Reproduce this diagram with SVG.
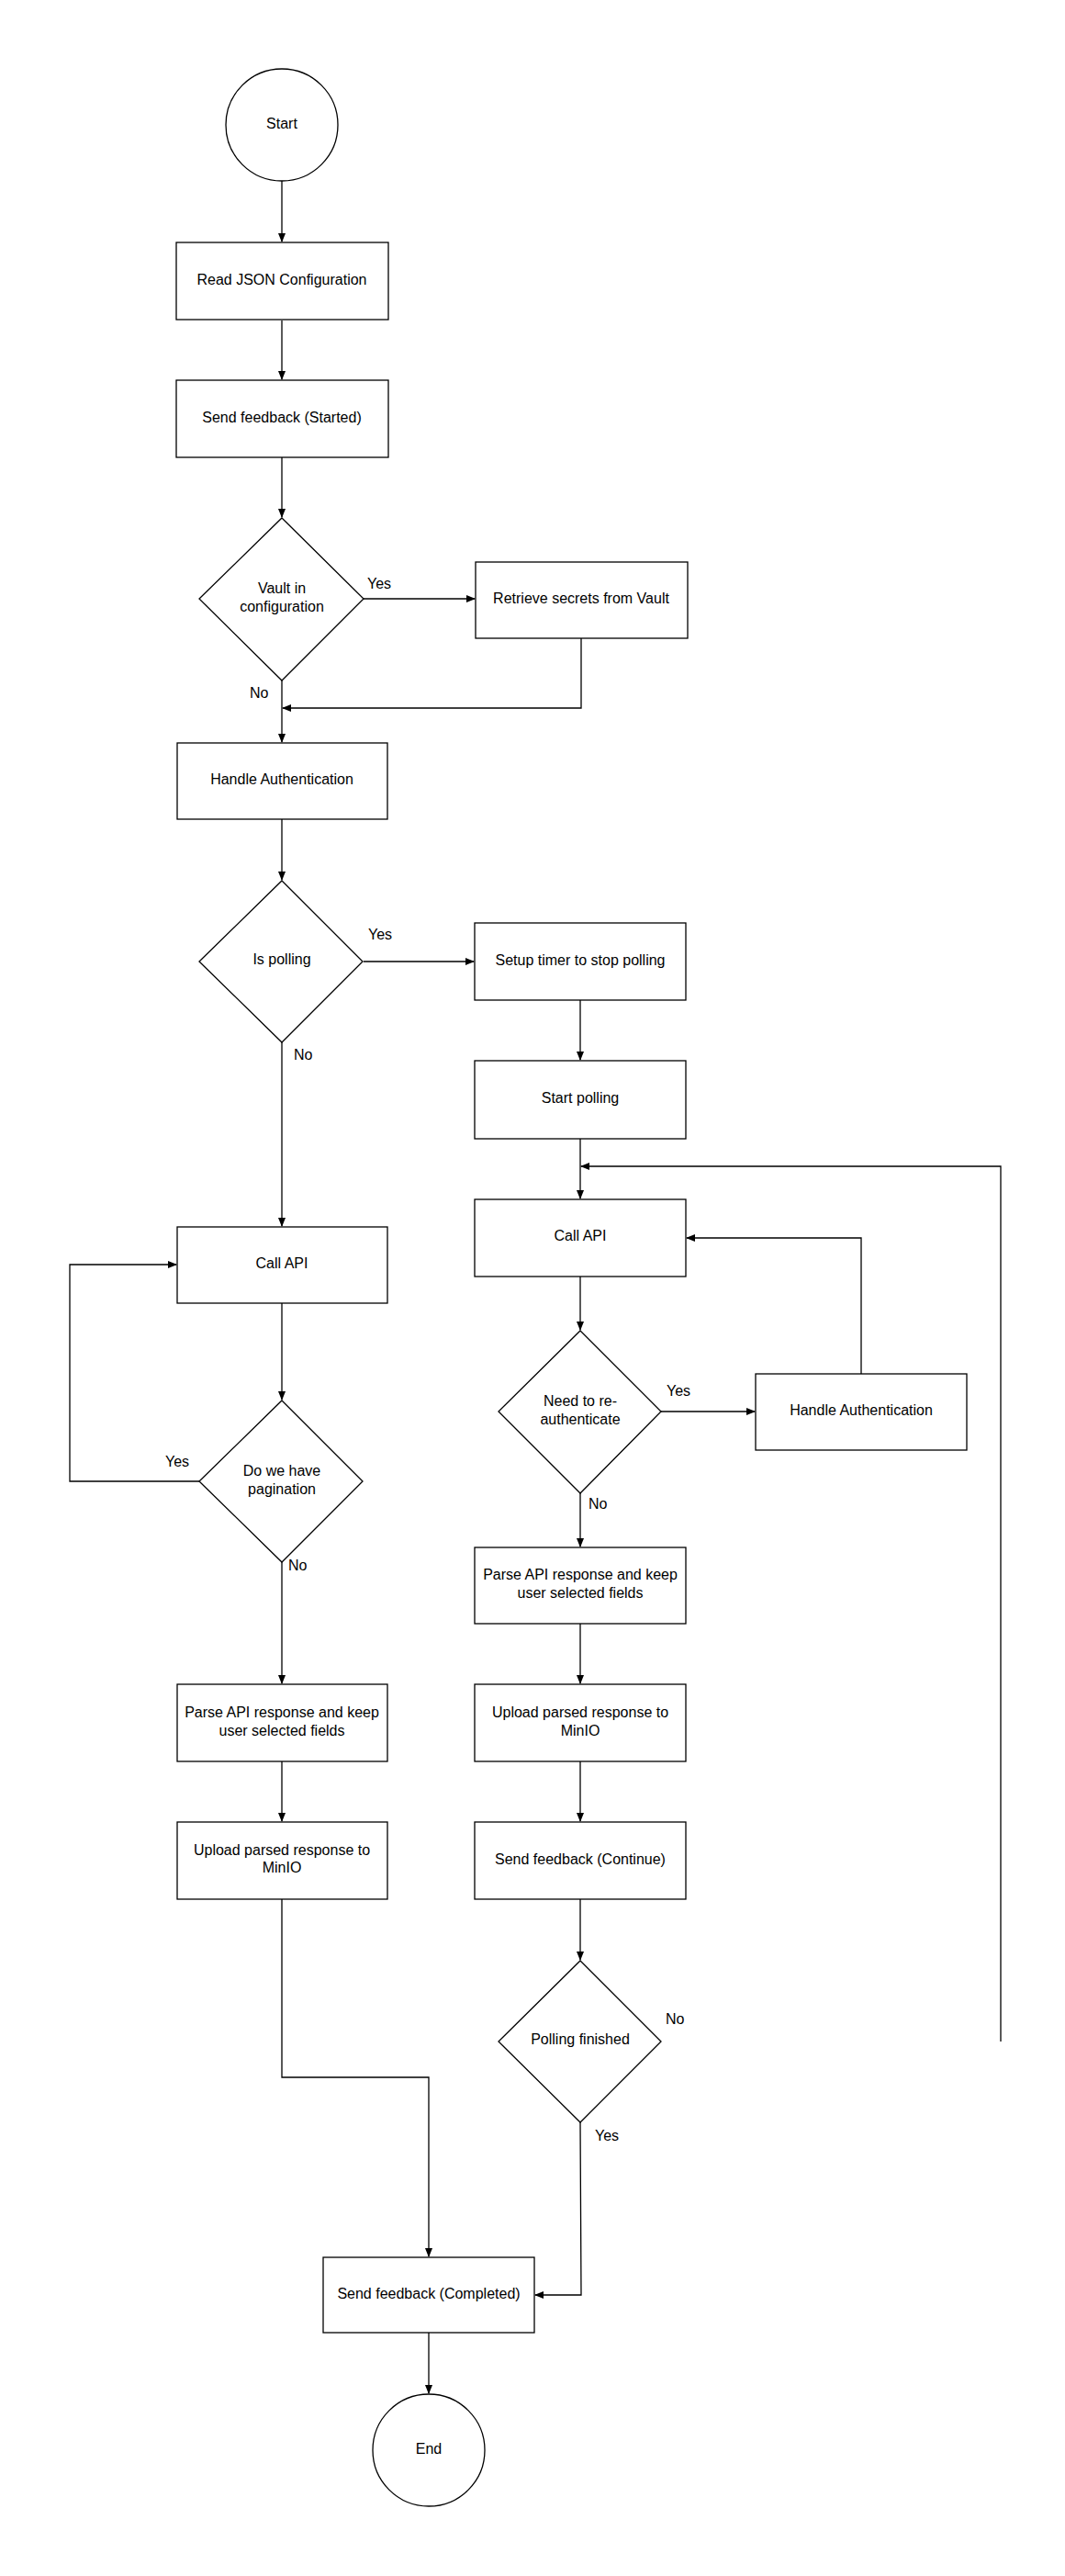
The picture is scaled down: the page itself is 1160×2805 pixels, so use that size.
<svg xmlns="http://www.w3.org/2000/svg" width="1160" height="2805" viewBox="0 0 1160 2805">
<defs>
<marker id="ah" markerWidth="10" markerHeight="8" refX="9" refY="4" orient="auto" markerUnits="userSpaceOnUse"><path d="M0,0 L10,4 L0,8 Z" fill="#000"/></marker>
<style>
.s{fill:#fff;stroke:#000;stroke-width:1.3}
text{font-family:"Liberation Sans",Arial,sans-serif;font-size:16px;fill:#000;text-anchor:middle;dominant-baseline:middle}
.l{text-anchor:start}
#connectors path{fill:none;stroke:#000;stroke-width:1.3;marker-end:url(#ah)}
</style>
</defs>
<rect width="1160" height="2805" fill="#fff"/>
<g id="connectors">
<path d="M307,197 V263"/>
<path d="M307,349 V413"/>
<path d="M307,498 V563"/>
<path d="M396,652 H517"/>
<path d="M633,695 V771 H308"/>
<path d="M307,741 V808"/>
<path d="M307,892 V958"/>
<path d="M396,1047 H516"/>
<path d="M632,1089 V1154"/>
<path d="M632,1240 V1305"/>
<path d="M1090,2223 V1270 H633"/>
<path d="M307,1135 V1335"/>
<path d="M307,1419 V1524"/>
<path d="M217,1613 H76 V1377 H192"/>
<path d="M307,1701 V1833"/>
<path d="M307,1918 V1983"/>
<path d="M307,2068 V2262 H467 V2457"/>
<path d="M632,1390 V1448"/>
<path d="M720,1537 H822"/>
<path d="M938,1496 V1348 H748"/>
<path d="M632,1626 V1684"/>
<path d="M632,1768 V1833"/>
<path d="M632,1918 V1983"/>
<path d="M632,2068 V2134"/>
<path d="M632,2311 L633,2499 H583"/>
<path d="M467,2540 V2606"/>
</g>
<g id="start"><circle class="s" cx="307" cy="136" r="61"/><text x="307" y="136">Start</text></g>
<g id="readjson"><rect class="s" x="192" y="264" width="231" height="84"/><text x="307" y="306">Read JSON Configuration</text></g>
<g id="feedbackStarted"><rect class="s" x="192" y="414" width="231" height="84"/><text x="307" y="456">Send feedback (Started)</text></g>
<g id="vault"><polygon class="s" points="307,564 396,652 307,741 217,652"/><text x="307" y="642">Vault in</text><text x="307" y="662">configuration</text></g>
<g id="retrieve"><rect class="s" x="518" y="612" width="231" height="83"/><text x="633" y="653">Retrieve secrets from Vault</text></g>
<g id="auth1"><rect class="s" x="193" y="809" width="229" height="83"/><text x="307" y="850">Handle Authentication</text></g>
<g id="ispolling"><polygon class="s" points="307,959 395,1047 307,1135 217,1047"/><text x="307" y="1046">Is polling</text></g>
<g id="timer"><rect class="s" x="517" y="1005" width="230" height="84"/><text x="632" y="1047">Setup timer to stop polling</text></g>
<g id="startpolling"><rect class="s" x="517" y="1155" width="230" height="85"/><text x="632" y="1197">Start polling</text></g>
<g id="callapiL"><rect class="s" x="193" y="1336" width="229" height="83"/><text x="307" y="1377">Call API</text></g>
<g id="pagination"><polygon class="s" points="307,1525 395,1613 307,1701 217,1613"/><text x="307" y="1603">Do we have</text><text x="307" y="1623">pagination</text></g>
<g id="parseL"><rect class="s" x="193" y="1834" width="229" height="84"/><text x="307" y="1866">Parse API response and keep</text><text x="307" y="1886">user selected fields</text></g>
<g id="uploadL"><rect class="s" x="193" y="1984" width="229" height="84"/><text x="307" y="2016">Upload parsed response to</text><text x="307" y="2035">MinIO</text></g>
<g id="callapiR"><rect class="s" x="517" y="1306" width="230" height="84"/><text x="632" y="1347">Call API</text></g>
<g id="reauth"><polygon class="s" points="632,1449 720,1537 632,1626 543,1537"/><text x="632" y="1527">Need to re-</text><text x="632" y="1547">authenticate</text></g>
<g id="auth2"><rect class="s" x="823" y="1496" width="230" height="83"/><text x="938" y="1537">Handle Authentication</text></g>
<g id="parseR"><rect class="s" x="517" y="1685" width="230" height="83"/><text x="632" y="1716">Parse API response and keep</text><text x="632" y="1736">user selected fields</text></g>
<g id="uploadR"><rect class="s" x="517" y="1834" width="230" height="84"/><text x="632" y="1866">Upload parsed response to</text><text x="632" y="1886">MinIO</text></g>
<g id="continue"><rect class="s" x="517" y="1984" width="230" height="84"/><text x="632" y="2026">Send feedback (Continue)</text></g>
<g id="pollfinished"><polygon class="s" points="632,2135 720,2223 632,2311 543,2223"/><text x="632" y="2222">Polling finished</text></g>
<g id="completed"><rect class="s" x="352" y="2458" width="230" height="82"/><text x="467" y="2499">Send feedback (Completed)</text></g>
<g id="end"><circle class="s" cx="467" cy="2668" r="61"/><text x="467" y="2668">End</text></g>
<g id="labels">
<text class="l" x="400" y="637">Yes</text>
<text class="l" x="272" y="756">No</text>
<text class="l" x="401" y="1019">Yes</text>
<text class="l" x="320" y="1150">No</text>
<text class="l" x="180" y="1593">Yes</text>
<text class="l" x="314" y="1706">No</text>
<text class="l" x="726" y="1516">Yes</text>
<text class="l" x="641" y="1639">No</text>
<text class="l" x="725" y="2200">No</text>
<text class="l" x="648" y="2327">Yes</text>
</g>
</svg>
